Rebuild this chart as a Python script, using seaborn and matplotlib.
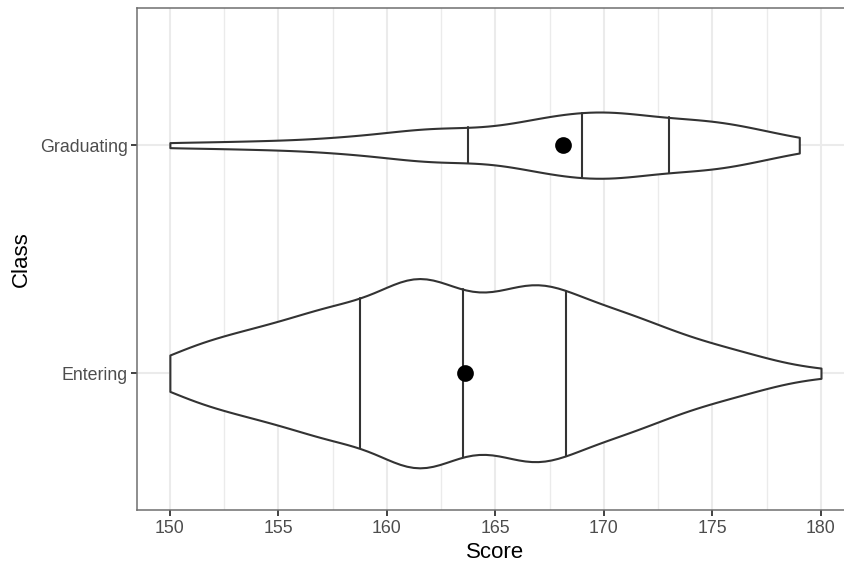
import numpy as np
import pandas as pd
import seaborn as sns
import matplotlib
matplotlib.use("Agg")
import matplotlib.pyplot as plt
from matplotlib.ticker import MultipleLocator

# ---- data ----
classes = ["Graduating", "Entering"]
score_values = list(range(150, 181))
entering_counts = [2, 3, 3, 4, 4, 5, 5, 6, 8, 5, 7, 11, 12, 5, 8, 5, 9, 11, 7, 7,
                   6, 6, 5, 4, 3, 3, 2, 2, 1, 0, 1]
graduating_counts = [1, 0, 0, 1, 0, 1, 0, 1, 1, 1, 1, 2, 2, 3, 1, 1, 3, 3, 4, 3,
                     5, 4, 3, 2, 3, 4, 2, 2, 1, 1, 0]
x_ticks = [150, 155, 160, 165, 170, 175, 180]

ent_scores = np.repeat(score_values, entering_counts)
grad_scores = np.repeat(score_values, graduating_counts)
df = pd.DataFrame({
    "Class": ["Entering"] * len(ent_scores) + ["Graduating"] * len(grad_scores),
    "Score": np.concatenate([ent_scores, grad_scores]).astype(float),
})

sns.set_style("white")
plt.rcParams["font.family"] = ["Liberation Sans", "DejaVu Sans"]

fig = plt.figure(figsize=(8.44, 5.65), dpi=100)
ax = fig.add_axes([0.1627, 0.0973, 0.8486, 0.888])

sns.violinplot(data=df, x="Score", y="Class", order=classes, orient="h",
               cut=0, density_norm="count", width=0.83, bw_adjust=0.65,
               inner="quart", color="white", saturation=1,
               linecolor="#333333", linewidth=1.5, ax=ax)
for ln in ax.lines:
    ln.set_linestyle("-")
    ln.set_color("#333333")
    ln.set_linewidth(1.5)

sns.pointplot(data=df, x="Score", y="Class", order=classes, orient="h",
              estimator="mean", errorbar=None, color="black", marker="o",
              markersize=10, linestyle="none", ax=ax)

ax.set_xlim(148.5, 181.5)
ax.set_ylim(1.6, -0.6)
ax.set_xticks(x_ticks)
ax.xaxis.set_minor_locator(MultipleLocator(2.5))
ax.set_axisbelow(True)
ax.grid(True, which="major", axis="both", color="#EBEBEB", linewidth=1.5)
ax.grid(True, which="minor", axis="x", color="#EBEBEB", linewidth=1.0)
for sp in ax.spines.values():
    sp.set_visible(True)
    sp.set_color("#6f6f6f")
    sp.set_linewidth(1.1)

ax.tick_params(axis="both", which="major", direction="out", length=4,
               width=1.3, color="#333333", labelcolor="#4D4D4D",
               labelsize=12.8, pad=3, bottom=True, left=True)
ax.tick_params(axis="x", which="minor", length=0)
ax.set_xlabel("Score", fontsize=16, color="black", labelpad=4)
ax.set_ylabel("Class", fontsize=16, color="black", labelpad=6)

fig.savefig("out.png", dpi=100)
